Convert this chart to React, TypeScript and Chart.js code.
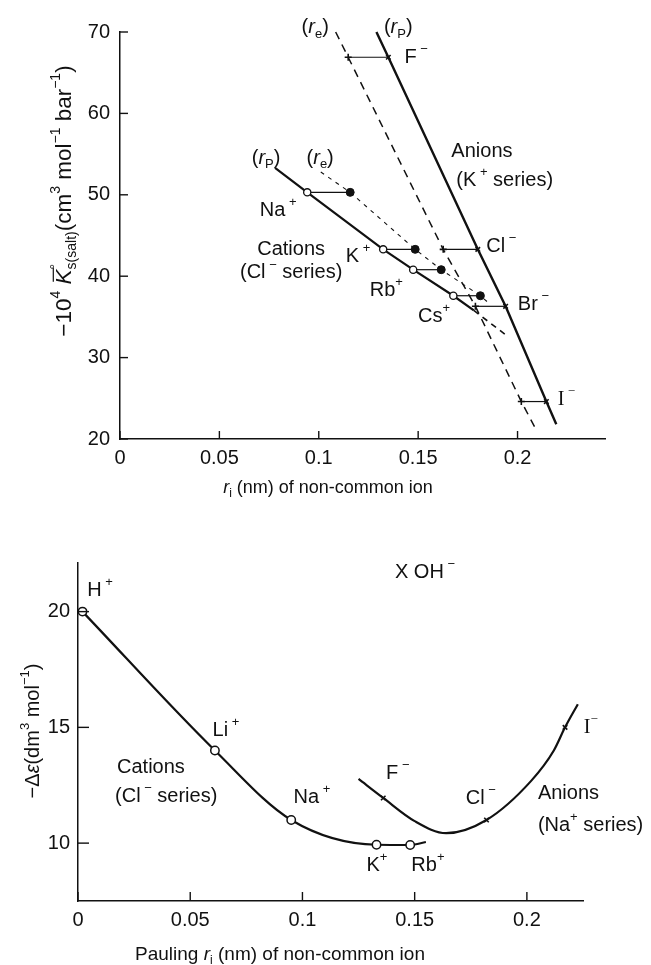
import React, { useEffect, useRef } from "react";
import { Chart, registerables } from "chart.js";
Chart.register(...registerables);

const FONT = '"Liberation Sans", Arial, sans-serif';
const SERIF = '"Liberation Serif", "Times New Roman", serif';
const INK = "#111111";

// ---------------- Top panel data ----------------
const topXTicks = [0, 0.05, 0.1, 0.15, 0.2];
const topXTickLabels = ["0", "0.05", "0.1", "0.15", "0.2"];
const topYTicks = [20, 30, 40, 50, 60, 70];
const topYTickLabels = ["20", "30", "40", "50", "60", "70"];

// Cations (Cl- series): Pauling radius (open), effective radius (filled)
const cationIons = ["Na+", "K+", "Rb+", "Cs+"];
const cationPaulingR = [0.0942, 0.1324, 0.1475, 0.1677];
const cationEffR = [0.1158, 0.1485, 0.1616, 0.1813];
const cationK = [50.3, 43.3, 40.8, 37.6];
const cationPLineX = [0.078, 0.0942, 0.1324, 0.1475, 0.1677, 0.178];
const cationPLineY = [53.3, 50.3, 43.3, 40.8, 37.6, 35.8];
const cationPExtX = [0.178, 0.194];
const cationPExtY = [35.8, 32.8];
const cationELineX = [0.101, 0.1158, 0.1485, 0.1616, 0.1813, 0.186];
const cationELineY = [52.8, 50.3, 43.3, 40.8, 37.6, 36.6];

// Anions (K+ series)
const anionIons = ["F-", "Cl-", "Br-", "I-"];
const anionPaulingR = [0.135, 0.18, 0.194, 0.2145];
const anionEffR = [0.1148, 0.1626, 0.1788, 0.2019];
const anionK = [66.9, 43.3, 36.3, 24.6];
const anionPLineX = [0.129, 0.135, 0.18, 0.194, 0.2145, 0.2195];
const anionPLineY = [70, 66.9, 43.3, 36.3, 24.6, 21.8];
const anionELineX = [0.1085, 0.1148, 0.1626, 0.1788, 0.2019, 0.209];
const anionELineY = [70, 66.9, 43.3, 36.3, 24.6, 21.3];

// ---------------- Bottom panel data ----------------
const botXTicks = [0, 0.05, 0.1, 0.15, 0.2];
const botXTickLabels = ["0", "0.05", "0.1", "0.15", "0.2"];
const botYTicks = [10, 15, 20];
const botYTickLabels = ["10", "15", "20"];

const bCations = ["H+", "Li+", "Na+", "K+", "Rb+"];
const bCationR = [0.002, 0.061, 0.095, 0.133, 0.148];
const bCationDE = [20, 14, 11, 9.93, 9.92];
const bCationCurveX = [0.002, 0.061, 0.095, 0.133, 0.148, 0.155];
const bCationCurveY = [20, 14, 11, 9.93, 9.92, 10.05];

const bAnions = ["F-", "Cl-", "I-"];
const bAnionR = [0.136, 0.182, 0.217];
const bAnionDE = [11.95, 11.0, 15.0];
const bAnionCurveX = [0.125, 0.136, 0.15, 0.164, 0.182, 0.202, 0.212, 0.217, 0.2227];
const bAnionCurveY = [12.77, 11.95, 10.95, 10.43, 11.0, 12.7, 14.0, 15.0, 16.0];

// ---------------- Annotations (text, anchored in data coords) ----------------
type Lab = { t: string; x: number; y: number; left?: boolean; serif?: boolean };
const topLabels: Lab[] = [
  { t: "(*r*_{e})", x: 0.0982, y: 70.5 },
  { t: "(*r*_{P})", x: 0.14, y: 70.5 },
  { t: "F^{ −}", x: 0.149, y: 66.9 },
  { t: "Anions", x: 0.1667, y: 55.3, left: true },
  { t: "(K^{ +} series)", x: 0.1692, y: 51.8, left: true },
  { t: "(*r*_{P})", x: 0.0735, y: 54.5 },
  { t: "(*r*_{e})", x: 0.1007, y: 54.5 },
  { t: "Na^{ +}", x: 0.0796, y: 48.1 },
  { t: "Cations", x: 0.0861, y: 43.3 },
  { t: "(Cl^{ −} series)", x: 0.0861, y: 40.4 },
  { t: "K^{ +}", x: 0.1198, y: 42.4 },
  { t: "Rb^{+}", x: 0.134, y: 38.3 },
  { t: "Cs^{+}", x: 0.158, y: 35.0 },
  { t: "Cl^{ −}", x: 0.1918, y: 43.6 },
  { t: "Br^{ −}", x: 0.208, y: 36.5 },
  { t: "I^{ −}", x: 0.2246, y: 24.8, serif: true },
];
const botLabels: Lab[] = [
  { t: "X OH^{ −}", x: 0.1546, y: 21.7 },
  { t: "H^{ +}", x: 0.0098, y: 20.93 },
  { t: "Li^{ +}", x: 0.0659, y: 14.88 },
  { t: "Cations", x: 0.0174, y: 13.28, left: true },
  { t: "(Cl^{ −} series)", x: 0.0165, y: 12.03, left: true },
  { t: "Na^{ +}", x: 0.1042, y: 11.99 },
  { t: "K^{+}", x: 0.1332, y: 9.05 },
  { t: "Rb^{+}", x: 0.1559, y: 9.05 },
  { t: "F^{ −}", x: 0.1425, y: 13.0 },
  { t: "Cl^{ −}", x: 0.1795, y: 11.94 },
  { t: "Anions", x: 0.2049, y: 12.16, left: true },
  { t: "(Na^{+} series)", x: 0.2049, y: 10.78, left: true },
  { t: "I^{−}", x: 0.2285, y: 15.0, serif: true },
];

const topXTitle = "*r*_{i} (nm) of non-common ion";
const topYTitle = "−10^{4} ~*K*~^{°}_{s(salt)}(cm^{3} mol^{−1} bar^{−1})";
const botXTitle = "Pauling *r*_{i} (nm) of non-common ion";
const botYTitle = "−Δ*ε*(dm^{3} mol^{−1})";

// ---------------- Rich text helper ----------------
type Seg = { t: string; sup?: boolean; sub?: boolean; it?: boolean; bar?: boolean };
function parseRich(s: string): Seg[] {
  const segs: Seg[] = [];
  let i = 0, it = false, bar = false, buf = "";
  const flush = () => { if (buf) segs.push({ t: buf, it, bar }); buf = ""; };
  while (i < s.length) {
    const c = s[i];
    if ((c === "^" || c === "_") && s[i + 1] === "{") {
      flush();
      const end = s.indexOf("}", i);
      segs.push({ t: s.slice(i + 2, end), sup: c === "^", sub: c === "_", it: false });
      i = end + 1;
      continue;
    }
    if (c === "*") { flush(); it = !it; i++; continue; }
    if (c === "~") { flush(); bar = !bar; i++; continue; }
    buf += c; i++;
  }
  flush();
  return segs;
}

function drawRich(ctx: CanvasRenderingContext2D, text: string, x: number, y: number, size: number,
  left = false, family = FONT, rotate = false) {
  const segs = parseRich(text);
  const fontFor = (s: Seg, sz: number) => `${s.it ? "italic " : ""}${sz}px ${family}`;
  const placed: any[] = [];
  let cursor = 0, prevSupStart = 0, prevWasSup = false;
  for (const s of segs) {
    const small = s.sup || s.sub;
    const sz = small ? Math.round(size * 0.64) : size;
    ctx.font = fontFor(s, sz);
    const w = ctx.measureText(s.t).width;
    let sx = cursor;
    if (s.sub && prevWasSup) sx = prevSupStart;
    const dy = s.sup ? -size * 0.4 : s.sub ? size * 0.32 : 0;
    placed.push({ s, sx, w, sz, dy });
    if (s.sup) { prevSupStart = sx; prevWasSup = true; } else prevWasSup = false;
    cursor = Math.max(cursor, sx + w);
  }
  ctx.save();
  ctx.translate(x, y);
  if (rotate) ctx.rotate(-Math.PI / 2);
  const x0 = left ? 0 : -cursor / 2;
  ctx.textBaseline = "middle";
  ctx.textAlign = "left";
  ctx.fillStyle = INK;
  ctx.strokeStyle = INK;
  for (const p of placed) {
    ctx.font = fontFor(p.s, p.sz);
    ctx.fillText(p.s.t, x0 + p.sx, p.dy);
    if (p.s.bar) {
      ctx.lineWidth = 1.2;
      ctx.beginPath();
      ctx.moveTo(x0 + p.sx + size * 0.12, -size * 0.52);
      ctx.lineTo(x0 + p.sx + p.w + size * 0.08, -size * 0.52);
      ctx.stroke();
    }
  }
  ctx.restore();
}

// ---------------- Chart builders ----------------
const pts = (xs: number[], ys: number[]) => xs.map((x, i) => ({ x, y: ys[i] }));

function markerDs(data: any[], style: string, r: number, fill: string, bw: number) {
  return {
    data, showLine: false, pointStyle: style, pointRadius: r, pointHoverRadius: r,
    pointBackgroundColor: fill, pointBorderColor: INK, pointBorderWidth: bw, order: 0, clip: false,
  };
}
function lineDs(data: any[], width: number, dash: number[] = [], curve = false) {
  return {
    data, showLine: true, pointRadius: 0, pointHoverRadius: 0, borderColor: INK, borderWidth: width,
    borderDash: dash, backgroundColor: "transparent", fill: false, order: 1, clip: false,
    cubicInterpolationMode: curve ? "monotone" : "default", tension: 0,
  };
}

type PanelCfg = {
  datasets: any[]; xMin: number; xMax: number; yMin: number; yMax: number;
  xTicks: number[]; xTickLabels: string[]; yTicks: number[]; yTickLabels: string[];
  pad: { top: number; right: number }; yWidth: number; xHeight: number;
  xTickPad: number; yTickPad: number; tickLenX: number; tickLenY: number;
  labels: Lab[]; xTitle: string; xTitlePos: [number, number]; xTitleSize: number;
  yTitle: string; yTitlePos: [number, number]; yTitleSize: number;
};

function makeConfig(p: PanelCfg): any {
  const annot = {
    id: "annot",
    afterDraw(chart: any) {
      const ctx = chart.ctx as CanvasRenderingContext2D;
      const ca = chart.chartArea;
      const xs = chart.scales.x, ys = chart.scales.y;
      ctx.save();
      ctx.strokeStyle = INK;
      ctx.lineWidth = 1.4;
      for (const t of xs.ticks) {
        const px = xs.getPixelForValue(t.value);
        ctx.beginPath(); ctx.moveTo(px, ca.bottom); ctx.lineTo(px, ca.bottom - p.tickLenX); ctx.stroke();
      }
      for (const t of ys.ticks) {
        const py = ys.getPixelForValue(t.value);
        ctx.beginPath(); ctx.moveTo(ca.left, py); ctx.lineTo(ca.left + p.tickLenY, py); ctx.stroke();
      }
      for (const l of p.labels) {
        drawRich(ctx, l.t, xs.getPixelForValue(l.x), ys.getPixelForValue(l.y), 20, !!l.left, l.serif ? SERIF : FONT);
      }
      drawRich(ctx, p.xTitle, p.xTitlePos[0], p.xTitlePos[1], p.xTitleSize);
      drawRich(ctx, p.yTitle, p.yTitlePos[0], p.yTitlePos[1], p.yTitleSize, false, FONT, true);
      ctx.restore();
    },
  };
  const tickFont = { family: FONT, size: 20 };
  return {
    type: "scatter",
    data: { datasets: p.datasets },
    plugins: [annot],
    options: {
      responsive: false,
      animation: false,
      events: [],
      layout: { autoPadding: false, padding: { top: p.pad.top, right: p.pad.right, left: 0, bottom: 0 } },
      plugins: { legend: { display: false }, tooltip: { enabled: false }, title: { display: false } },
      scales: {
        x: {
          type: "linear", min: p.xMin, max: p.xMax,
          grid: { display: false, drawTicks: false },
          border: { display: true, color: INK, width: 1.5 },
          afterBuildTicks: (s: any) => { s.ticks = p.xTicks.map((v) => ({ value: v })); },
          afterFit: (s: any) => { s.height = p.xHeight; s.paddingLeft = 0; s.paddingRight = 0; s.paddingTop = 0; s.paddingBottom = 0; },
          ticks: {
            color: INK, font: tickFont, padding: p.xTickPad, autoSkip: false, maxRotation: 0, minRotation: 0,
            callback: (_v: any, i: number) => p.xTickLabels[i],
          },
        },
        y: {
          type: "linear", min: p.yMin, max: p.yMax,
          grid: { display: false, drawTicks: false },
          border: { display: true, color: INK, width: 1.5 },
          afterBuildTicks: (s: any) => { s.ticks = p.yTicks.map((v) => ({ value: v })); },
          afterFit: (s: any) => { s.width = p.yWidth; s.paddingLeft = 0; s.paddingRight = 0; s.paddingTop = 0; s.paddingBottom = 0; },
          ticks: {
            color: INK, font: tickFont, padding: p.yTickPad, autoSkip: false,
            callback: (_v: any, i: number) => p.yTickLabels[i],
          },
        },
      },
    },
  };
}

function topConfig() {
  const connectors: any[] = [];
  cationIons.forEach((_, i) => connectors.push(lineDs([{ x: cationPaulingR[i], y: cationK[i] }, { x: cationEffR[i], y: cationK[i] }], 1.2)));
  anionIons.forEach((_, i) => connectors.push(lineDs([{ x: anionEffR[i], y: anionK[i] }, { x: anionPaulingR[i], y: anionK[i] }], 1.2)));
  const datasets = [
    markerDs(pts(cationPaulingR, cationK), "circle", 3.6, "#ffffff", 1.3),
    markerDs(pts(cationEffR, cationK), "circle", 4, INK, 1),
    markerDs(pts(anionPaulingR, anionK), "crossRot", 3.2, INK, 1.6),
    markerDs(pts(anionEffR, anionK), "cross", 3.5, INK, 1.6),
    lineDs(pts(cationPLineX, cationPLineY), 2.2),
    lineDs(pts(cationPExtX, cationPExtY), 1.6, [6, 5]),
    lineDs(pts(cationELineX, cationELineY), 1.1, [4, 5]),
    lineDs(pts(anionPLineX, anionPLineY), 2.4),
    lineDs(pts(anionELineX, anionELineY), 1.5, [8, 6]),
    ...connectors,
  ];
  return makeConfig({
    datasets, xMin: 0, xMax: 0.244, yMin: 20, yMax: 70,
    xTicks: topXTicks, xTickLabels: topXTickLabels, yTicks: topYTicks, yTickLabels: topYTickLabels,
    pad: { top: 32, right: 46 }, yWidth: 120, xHeight: 61, xTickPad: 7, yTickPad: 10,
    tickLenX: 8, tickLenY: 8, labels: topLabels,
    xTitle: topXTitle, xTitlePos: [328, 488], xTitleSize: 18,
    yTitle: topYTitle, yTitlePos: [65, 201], yTitleSize: 22.5,
  });
}

function botConfig() {
  const datasets = [
    markerDs(pts(bCationR, bCationDE), "circle", 4.2, "#ffffff", 1.5),
    markerDs(pts(bAnionR, bAnionDE), "crossRot", 3.2, INK, 1.6),
    lineDs(pts(bCationCurveX, bCationCurveY), 2.2, [], true),
    lineDs(pts(bAnionCurveX, bAnionCurveY), 2.2, [], true),
  ];
  return makeConfig({
    datasets, xMin: 0, xMax: 0.225, yMin: 7.5, yMax: 22.1,
    xTicks: botXTicks, xTickLabels: botXTickLabels, yTicks: botYTicks, yTickLabels: botYTickLabels,
    pad: { top: 63, right: 68 }, yWidth: 78, xHeight: 64, xTickPad: 7, yTickPad: 8,
    tickLenX: 9, tickLenY: 11, labels: botLabels,
    xTitle: botXTitle, xTitlePos: [280, 455], xTitleSize: 19,
    yTitle: botYTitle, yTitlePos: [33, 231], yTitleSize: 20,
  });
}

export default function App() {
  const topRef = useRef<HTMLCanvasElement>(null);
  const botRef = useRef<HTMLCanvasElement>(null);
  useEffect(() => {
    const c1 = new Chart(topRef.current as HTMLCanvasElement, topConfig());
    const c2 = new Chart(botRef.current as HTMLCanvasElement, botConfig());
    return () => { c1.destroy(); c2.destroy(); };
  }, []);
  return (
    <div style={{ position: "absolute", left: 0, top: 0, width: 651, height: 965, background: "#ffffff", overflow: "hidden" }}>
      <canvas ref={topRef} width={651} height={500} style={{ position: "absolute", left: 0, top: 0, width: 651, height: 500 }} />
      <canvas ref={botRef} width={651} height={465} style={{ position: "absolute", left: 0, top: 500, width: 651, height: 465 }} />
    </div>
  );
}
